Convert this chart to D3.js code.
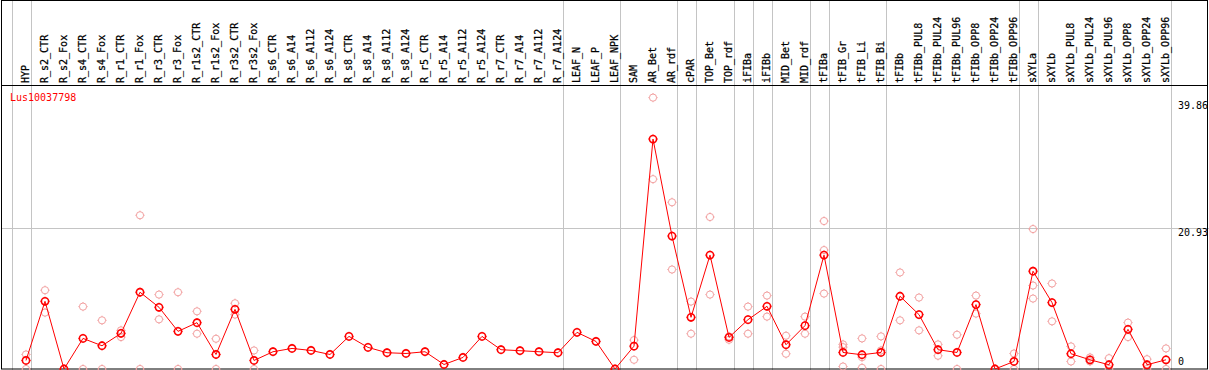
<!DOCTYPE html>
<html>
<head>
<meta charset="utf-8">
<script src="https://cdn.jsdelivr.net/npm/d3@7"></script>
<style>
  body { margin: 0; background: #fff; }
  svg { display: block; }
</style>
</head>
<body>
<div id="app"></div>
<script>
const gene = "Lus10037798";

const samples = ["HYP", "R_s2_CTR", "R_s2_Fox", "R_s4_CTR", "R_s4_Fox", "R_r1_CTR", "R_r1_Fox",
    "R_r3_CTR", "R_r3_Fox", "R_r1s2_CTR", "R_r1s2_Fox", "R_r3s2_CTR", "R_r3s2_Fox",
    "R_s6_CTR", "R_s6_A14", "R_s6_A112", "R_s6_A124", "R_s8_CTR", "R_s8_A14", "R_s8_A112", "R_s8_A124",
    "R_r5_CTR", "R_r5_A14", "R_r5_A112", "R_r5_A124", "R_r7_CTR", "R_r7_A14", "R_r7_A112", "R_r7_A124",
    "LEAF_N", "LEAF_P", "LEAF_NPK", "SAM", "AR_Bet", "AR_rdf", "cPAR", "TOP_Bet", "TOP_rdf",
    "iFIBa", "iFIBb", "MID_Bet", "MID_rdf", "tFIBa", "tFIB_Gr", "tFIB_Li", "tFIB_Bi",
    "tFIBb", "tFIBb_PUL8", "tFIBb_PUL24", "tFIBb_PUL96", "tFIBb_OPP8", "tFIBb_OPP24", "tFIBb_OPP96",
    "sXYLa", "sXYLb", "sXYLb_PUL8", "sXYLb_PUL24", "sXYLb_PUL96", "sXYLb_OPP8", "sXYLb_OPP24", "sXYLb_OPP96"];

// mean expression per sample
const means = [1.27, 10.07, 0, 4.55, 3.46, 5.30, 11.42, 9.18, 5.60, 6.89, 2.16, 8.88, 1.27,
    2.57, 3.06, 2.76, 2.16, 4.85, 3.21, 2.42, 2.31, 2.57, 0.67, 1.72, 4.85, 2.87, 2.72, 2.57, 2.42,
    5.45, 4.10, 0, 3.40, 34.21, 19.78, 7.69, 16.94, 4.70, 7.34, 9.33, 3.61, 6.45,
    16.94, 2.46, 2.12, 2.46, 10.82, 8.09, 2.87, 2.46, 9.58, 0, 1.12,
    14.55, 9.88, 2.27, 1.37, 0.63, 5.90, 0.63, 1.37];

// individual replicates
const replicates = [[2.16, 0], [11.72, 8.39], [0], [9.28, 0], [7.24, 0], [5.75, 4.75], [22.87, 0],
    [11.07, 7.39], [11.42, 0], [8.58, 5.25], [4.5, 0], [9.78, 8.09], [2.76, 0],
    [], [], [], [], [], [], [], [], [], [], [], [], [], [], [], [],
    [], [], [], [4.30, 1.37], [40.37, 28.24], [24.8, 14.8], [10.03, 5.25], [22.61, 11.07], [4.85, 4.35],
    [9.28, 5.25], [10.92, 7.79], [4.95, 2.27], [7.79, 5.25],
    [22.01, 17.69, 11.22], [3.66, 3.25, 0.37], [4.55, 1.76, 0.18], [4.85, 2.76, 0],
    [14.36, 7.24], [10.63, 5.75], [3.66, 1.97], [5.10, 0], [10.92, 8.24], [0], [2.31, 0],
    [20.82, 12.42, 10.48], [12.72, 7.09], [3.36, 1.12], [1.72, 1.12], [1.61, 0], [6.90, 4.75], [1.46, 0], [3.06, 0]];

// separators drawn after these sample indices (-1 = before the first one)
const groupEnds = [-1, 0, 28, 31, 34, 35, 37, 38, 39, 41, 42, 45, 52, 53, 60];

const yTicks = [0, 20.93, 39.86];

const w = 1209;
const h = 370;
const headerH = 85;
const font = "'DejaVu Sans Mono', monospace";

const svg = d3.select("#app")
    .append("svg")
    .attr("width", w)
    .attr("height", h)
    .style("background-color", "white")

const xScale = d3.scalePoint()
    .domain(samples)
    .range([26, 1166]);
const step = xScale.step();

const yScale = d3.scaleLinear()
    .domain([0, 20.93])
    .range([369, 228.3]);

// group separators
svg.append("g")
    .selectAll("line")
    .data(groupEnds)
    .enter()
    .append("line")
    .attr("x1", d => Math.round(26 + step * d + 4.5) + 0.5)
    .attr("x2", d => Math.round(26 + step * d + 4.5) + 0.5)
    .attr("y1", 0)
    .attr("y2", h)
    .attr("stroke", "#c4c4c4")
    .attr("stroke-width", 1)

// horizontal grid (skip top and 0)
svg.append("line")
    .attr("x1", 1).attr("x2", w)
    .attr("y1", Math.round(yScale(yTicks[1])) + 0.5)
    .attr("y2", Math.round(yScale(yTicks[1])) + 0.5)
    .attr("stroke", "#c4c4c4")

// frame and header rule
svg.append("rect")
    .attr("x", 1.5).attr("y", 0.5)
    .attr("width", 1206).attr("height", 368.5)
    .attr("fill", "none")
    .attr("stroke", "black")
svg.append("line")
    .attr("x1", 1).attr("x2", 1208)
    .attr("y1", headerH + 0.5).attr("y2", headerH + 0.5)
    .attr("stroke", "black")

// column labels
svg.append("g")
    .selectAll("text")
    .data(samples)
    .enter()
    .append("text")
    .attr("transform", d => `translate(${Math.round(xScale(d) + 3) - 0.4},83) rotate(-90)`)
    .style("font-family", font)
    .style("font-size", "10px")
    .attr("fill", "black")
    .attr("stroke", "black")
    .attr("stroke-width", 0.25)
    .text(d => d)

// y labels on the right
svg.append("g")
    .selectAll("text")
    .data(yTicks)
    .enter()
    .append("text")
    .attr("x", 1178)
    .attr("y", d => Math.min(yScale(d) + 7.5, 365))
    .style("font-family", font)
    .style("font-size", "10px")
    .attr("fill", "black")
    .text(d => d)

svg.append("text")
    .attr("x", 10)
    .attr("y", 101)
    .style("font-family", font)
    .style("font-size", "10px")
    .attr("fill", "red")
    .text(gene)

const plot = svg.append("g")

function marker(g, cx, cy, color, sw) {
    const m = g.append("g").attr("transform", `translate(${cx},${cy})`)
    m.append("circle")
        .attr("r", 3.6)
        .attr("fill", "none")
        .attr("stroke", color)
        .attr("stroke-width", sw)
    m.selectAll("line")
        .data([[0, -1], [0, 1], [-1, 0], [1, 0]])
        .enter()
        .append("line")
        .attr("x1", d => d[0] * 3.6).attr("y1", d => d[1] * 3.6)
        .attr("x2", d => d[0] * 4.6).attr("y2", d => d[1] * 4.6)
        .attr("stroke", color)
        .attr("stroke-width", 1)
}

// replicates
samples.forEach((s, i) => {
    replicates[i].forEach(v => marker(plot, xScale(s), yScale(v), "#f2a0a0", 1))
})

// mean line
const line = d3.line()
    .x((d, i) => xScale(samples[i]))
    .y(d => yScale(d))

plot.append("path")
    .datum(means)
    .attr("d", line)
    .attr("fill", "none")
    .attr("stroke", "red")
    .attr("stroke-width", 1)

samples.forEach((s, i) => marker(plot, xScale(s), yScale(means[i]), "red", 1.6))
</script>
</body>
</html>
